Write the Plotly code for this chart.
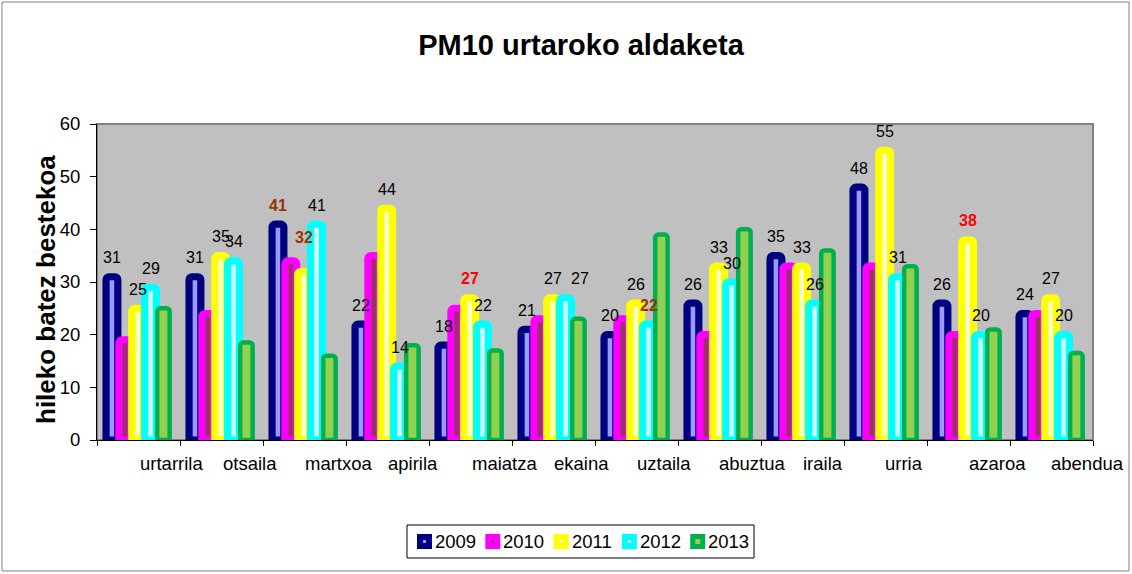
import plotly.graph_objects as go

# ---------------- data ----------------
months = ["urtarrila", "otsaila", "martxoa", "apirila", "maiatza", "ekaina",
          "uztaila", "abuztua", "iraila", "urria", "azaroa", "abendua"]
years = ["2009", "2010", "2011", "2012", "2013"]
v2009 = [31, 31, 41, 22, 18, 21, 20, 26, 35, 48, 26, 24]
v2010 = [19, 24, 34, 35, 25, 23, 23, 20, 33, 33, 20, 24]
v2011 = [25, 35, 32, 44, 27, 27, 26, 33, 33, 55, 38, 27]
v2012 = [29, 34, 41, 14, 22, 27, 22, 30, 26, 31, 20, 20]
v2013 = [25, 18.5, 16, 18, 17, 23, 39, 40, 36, 33, 21, 16.5]
values = [v2009, v2010, v2011, v2012, v2013]
labelled = ["2009", "2011", "2012"]

title_text = "PM10 urtaroko aldaketa"
y_title = "hileko batez bestekoa"

# ---------------- styles ----------------
FONT = "Liberation Sans, Arial, sans-serif"
edge_cols = ["#000080", "#FF00FF", "#FFFF00", "#00FFFF", "#00B050"]
fill_cols = ["#9999FF", "#993366", "#FFFFCC", "#CCFFFF", "#92D050"]
line_w = [7.2, 7.2, 7.2, 7.2, 4.5]
bar_w = [0.142, 0.142, 0.142, 0.142, 0.15]
centers = [-0.32, -0.165, -0.01, 0.145, 0.30]
# special label styling (month index, year) -> (colour, bold, extra xshift, extra yshift)
special = {(2, "2009"): ("#993300", True, 0, 0), (2, "2011"): ("#993300", True, 0, 15),
           (6, "2012"): ("#993300", True, 0, 0), (4, "2011"): ("#FF0000", True, 0, 0),
           (10, "2011"): ("#FF0000", True, 0, 0), (5, "2012"): ("#000000", False, 14, 0)}
xlabel_shift = [33, 28, 34, 25, 34, 28, 27, 33, 20, 18, 29, 36]

W, H = 1132, 574
L, R, T, B = 97, 1132 - 1093, 124, 574 - 440
pw, ph = W - L - R, H - T - B


def px_x(p):
    return (p - L) / pw


def px_y(p):
    return (H - B - p) / ph


fig = go.Figure()
xs = list(range(12))
for k, yr in enumerate(years):
    fig.add_trace(go.Bar(
        x=xs, y=values[k], name=yr,
        width=bar_w[k], offset=centers[k] - bar_w[k] / 2,
        marker=dict(color=fill_cols[k], line=dict(color=edge_cols[k], width=line_w[k]),
                    cornerradius=3),
        hoverinfo="x+y", showlegend=False,
    ))

annotations = []
for k, yr in enumerate(years):
    if yr not in labelled:
        continue
    for i, v in enumerate(values[k]):
        col, bold, dx, dy = special.get((i, yr), ("#000000", False, 0, 0))
        txt = f"<b>{round(v)}</b>" if bold else f"{round(v)}"
        annotations.append(dict(x=i + centers[k], y=v, xref="x", yref="y", text=txt,
                                showarrow=False, xshift=dx, yshift=19 + dy, yanchor="middle",
                                font=dict(family=FONT, size=16, color=col)))
for i, m in enumerate(months):
    annotations.append(dict(x=i, y=0, xref="x", yref="paper", text=m, showarrow=False,
                            xshift=xlabel_shift[i], yshift=-23, yanchor="middle",
                            font=dict(family=FONT, size=18.5, color="#000000")))
annotations.append(dict(x=px_x(46), y=px_y(290), xref="paper", yref="paper",
                        xanchor="center", yanchor="middle",
                        text=f"<b>{y_title}</b>", textangle=-90, showarrow=False,
                        font=dict(family=FONT, size=26, color="#000000")))

shapes = [
    dict(type="rect", xref="paper", yref="paper", x0=0, x1=1, y0=0, y1=1,
         line=dict(color="#808080", width=2), layer="below"),
    dict(type="rect", xref="paper", yref="paper",
         x0=px_x(2), x1=px_x(1129), y0=px_y(571), y1=px_y(2),
         line=dict(color="#808080", width=1)),
]

# ---------------- custom legend (box, swatches, labels) ----------------
leg_left, leg_right, leg_top, leg_bot = 407, 754, 525, 558
sw_x0, sw_step, sw_size, text_gap = 417, 68.3, 15, 1
leg_cy = (leg_top + leg_bot) / 2
shapes.append(dict(type="rect", xref="paper", yref="paper",
                   x0=px_x(leg_left), x1=px_x(leg_right), y0=px_y(leg_bot), y1=px_y(leg_top),
                   line=dict(color="#000000", width=1), fillcolor="#FFFFFF"))
inner = [3, 3, 3, 3, 5]
for k, yr in enumerate(years):
    sx = sw_x0 + k * sw_step
    shapes.append(dict(type="rect", xref="paper", yref="paper",
                       x0=px_x(sx), x1=px_x(sx + sw_size),
                       y0=px_y(leg_cy + sw_size / 2), y1=px_y(leg_cy - sw_size / 2),
                       line=dict(width=0), fillcolor=edge_cols[k]))
    c = sx + sw_size / 2
    shapes.append(dict(type="rect", xref="paper", yref="paper",
                       x0=px_x(c - inner[k] / 2), x1=px_x(c + inner[k] / 2),
                       y0=px_y(leg_cy + inner[k] / 2), y1=px_y(leg_cy - inner[k] / 2),
                       line=dict(width=0), fillcolor=fill_cols[k]))
    annotations.append(dict(x=px_x(sx + sw_size + text_gap), y=px_y(leg_cy),
                            xref="paper", yref="paper", xanchor="left", yanchor="middle",
                            text=yr, showarrow=False,
                            font=dict(family=FONT, size=18.5, color="#000000")))

fig.update_layout(
    width=W, height=H, autosize=False,
    margin=dict(l=L, r=R, t=T, b=B),
    paper_bgcolor="#FFFFFF", plot_bgcolor="#C0C0C0",
    barmode="overlay",
    title=dict(text=f"<b>{title_text}</b>", x=581 / W, xanchor="center",
               y=1 - 45 / H, yanchor="middle", yref="container",
               font=dict(family=FONT, size=29, color="#000000")),
    xaxis=dict(range=[-0.5, 11.5], tickmode="array",
               tickvals=[i - 0.5 for i in range(13)], ticktext=[""] * 13,
               ticks="outside", ticklen=5, tickcolor="#000000",
               showline=True, linecolor="#000000", linewidth=1,
               showgrid=False, zeroline=False, fixedrange=True),
    yaxis=dict(range=[0, 60], dtick=10, ticks="outside", ticklen=6, tickcolor="#000000",
               showline=True, linecolor="#000000", linewidth=1,
               showgrid=False, zeroline=False,
               tickfont=dict(family=FONT, size=18.5, color="#000000"),
               ticklabelstandoff=6),
    showlegend=False,
    annotations=annotations, shapes=shapes,
)

fig.write_html("out.html", config={"displayModeBar": False},
               post_script="document.body.style.margin='0px';")
